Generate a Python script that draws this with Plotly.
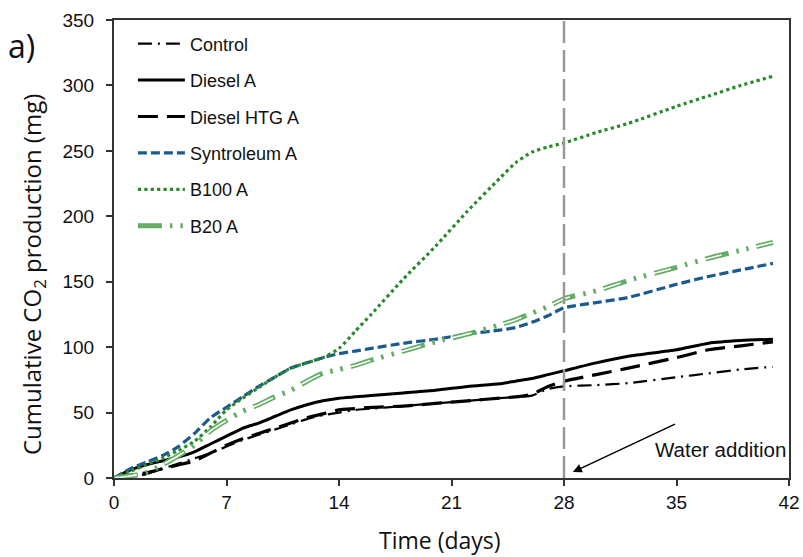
import plotly.graph_objects as go

days = [0, 1, 2, 3, 4, 5, 6, 7, 8, 9, 10, 11, 12, 13, 14, 15, 16, 18, 20, 22, 24, 25, 26, 27, 28, 30, 32, 35, 37, 39, 41]

control = [0, 1, 3, 7, 11, 15, 19, 24, 29, 33, 37, 41, 45, 48, 50, 52, 53, 55, 57, 59, 61, 62, 63, 68, 70, 71, 72.5, 77, 80, 83, 85]
diesel_a = [0, 6, 10, 13, 16, 20, 26, 32, 38, 42, 47, 52, 56, 59, 61, 62, 63, 65, 67, 70, 72, 74, 76, 79, 82, 88, 93, 98, 103, 105, 106]
diesel_htg = [0, 2, 4, 7, 10, 13, 19, 25, 30, 34, 38, 42, 46, 49, 52, 53, 54, 55, 57, 59, 61, 62, 64, 70, 74, 79, 84, 92, 98, 101, 104]
syntroleum = [0, 7, 12, 17, 24, 34, 46, 54, 62, 70, 77, 84, 88, 92, 95, 97, 99, 103, 106, 110, 113, 115, 119, 124, 130, 134, 138, 148, 154, 159, 164]
b100 = [0, 5, 10, 15, 21, 28, 39, 52, 61, 69, 77, 84, 88, 92, 99, 112, 125, 152, 177, 204, 229, 241, 249, 253, 256, 264, 271, 284, 292, 300, 307]
b20 = [0, 1.5, 4, 10, 17, 25, 36, 44, 51, 56, 62, 67, 74, 80, 83, 86, 90, 97, 104, 110, 117, 121, 126, 131, 137, 143, 151, 161, 168, 174, 180]

x_ticks = [0, 7, 14, 21, 28, 35, 42]
y_ticks = [0, 50, 100, 150, 200, 250, 300, 350]
water_day = 28

BLUE = "#1b5a8e"
GREEN = "#2a8a2a"
LGREEN = "#64ad64"

fig = go.Figure()

def add(name, y, color, width, dash, group, showlegend=True):
    fig.add_trace(go.Scatter(
        x=days, y=y, name=name, mode="lines",
        line=dict(color=color, width=width, dash=dash, shape="spline", smoothing=0.6),
        legendgroup=group, showlegend=showlegend, hoverinfo="skip"))

add("Control", control, "black", 2.2, "14px,6px,2px,6px", "g1")
add("Diesel A", diesel_a, "black", 3, "solid", "g2")
add("Diesel HTG A", diesel_htg, "black", 3.2, "20px,9px", "g3")
add("Syntroleum A", syntroleum, BLUE, 3.2, "9px,4px", "g4")
add("B100 A", b100, GREEN, 3.2, "dot", "g5")
add("B20 A", b20, LGREEN, 5, "24px,8px,2.5px,8px,2.5px,8px", "g6")
add("B20 A inner", b20, "white", 1.6, "0px,1px,22px,29.5px", "g6", showlegend=False)

fig.add_shape(type="line", x0=water_day, x1=water_day, y0=0, y1=350, xref="x", yref="y",
              line=dict(color="#999999", width=2.5, dash="22px,7px"))

fig.add_annotation(x=28.55, y=4.5, ax=35.0, ay=41.7, xref="x", yref="y", axref="x", ayref="y",
                   text="", showarrow=True, arrowhead=2, arrowsize=1.2, arrowwidth=1.5, arrowcolor="black")
fig.add_annotation(x=41.95, y=22, xref="x", yref="y", text="Water addition", showarrow=False,
                   xanchor="right", yanchor="middle",
                   font=dict(family="Liberation Sans, Arial", size=20.5, color="#111"))
fig.add_annotation(x=-0.137, y=0.945, xref="paper", yref="paper", text="a)", showarrow=False,
                   xanchor="center", yanchor="middle",
                   font=dict(family="Open Sans", size=32, color="#111"))
fig.add_annotation(x=0.483, y=-0.136, xref="paper", yref="paper", text="Time (days)", showarrow=False,
                   xanchor="center", yanchor="middle",
                   font=dict(family="Open Sans", size=23, color="#111"))
fig.add_annotation(x=-0.12, y=0.443, xref="paper", yref="paper",
                   text="Cumulative CO<sub>2</sub> production (mg)", showarrow=False, textangle=-90,
                   xanchor="center", yanchor="middle",
                   font=dict(family="Open Sans", size=24, color="#111"))

axis_common = dict(showgrid=False, zeroline=False, showline=True, linecolor="#333", linewidth=2,
                   mirror=True, ticks="outside", ticklen=6, tickwidth=1.5, tickcolor="#333",
                   automargin=False,
                   tickfont=dict(family="Liberation Sans, Arial", size=19, color="#111"))

fig.update_layout(
    width=803, height=557,
    margin=dict(l=114, r=14, t=20, b=79),
    paper_bgcolor="white", plot_bgcolor="white",
    xaxis=dict(range=[0, 42], tickvals=x_ticks, **axis_common),
    yaxis=dict(range=[0, 350], tickvals=y_ticks, ticklabelstandoff=8, **axis_common),
    legend=dict(x=0.028, y=0.988, xanchor="left", yanchor="top", bgcolor="rgba(0,0,0,0)",
                font=dict(family="Liberation Sans, Arial", size=18, color="#111"),
                tracegroupgap=10, traceorder="grouped", itemwidth=47),
    showlegend=True,
)

fig.write_html("out.html")
